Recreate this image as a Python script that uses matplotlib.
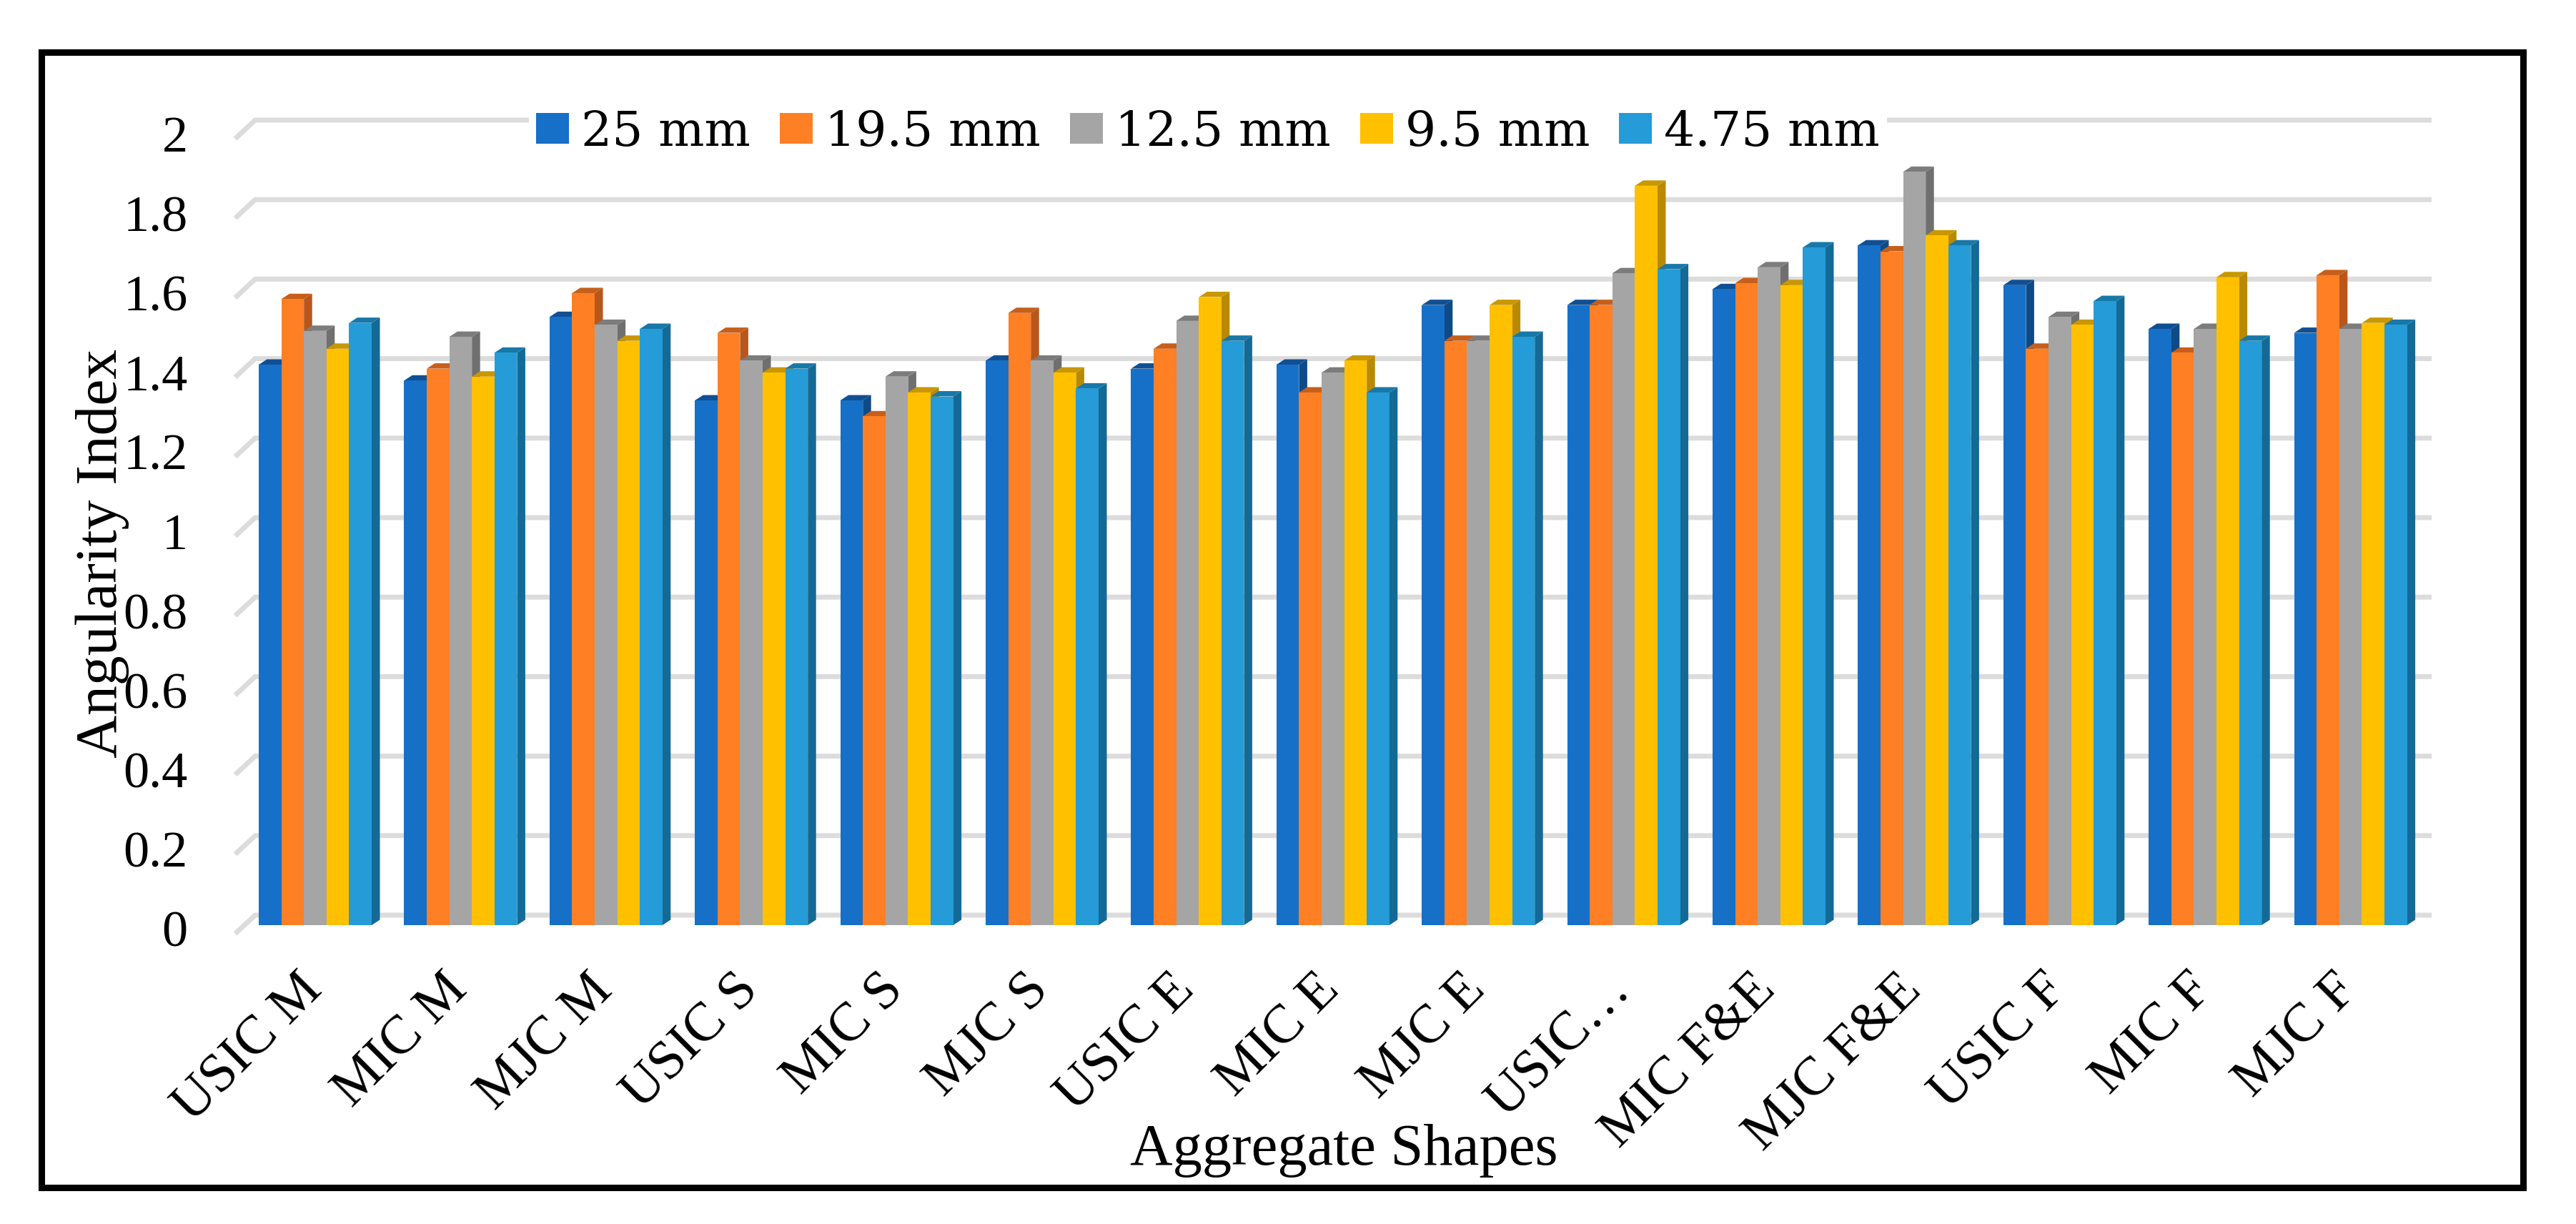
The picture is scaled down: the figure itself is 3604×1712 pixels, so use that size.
import numpy as np
import matplotlib
matplotlib.use("Agg")
import matplotlib.pyplot as plt
from matplotlib.patches import Patch
from matplotlib.transforms import ScaledTranslation

categories = ["USIC M", "MIC M", "MJC M", "USIC S", "MIC S", "MJC S", "USIC E", "MIC E",
              "MJC E", "USIC…", "MIC F&E", "MJC F&E", "USIC F", "MIC F", "MJC F"]
series_names = ["25 mm", "19.5 mm", "12.5 mm", "9.5 mm", "4.75 mm"]
s25 = [1.41, 1.37, 1.53, 1.32, 1.32, 1.42, 1.40, 1.41, 1.56, 1.56, 1.60, 1.71, 1.61, 1.50, 1.49]
s195 = [1.575, 1.40, 1.59, 1.49, 1.28, 1.54, 1.45, 1.34, 1.47, 1.56, 1.615, 1.695, 1.45, 1.44, 1.635]
s125 = [1.495, 1.48, 1.51, 1.42, 1.38, 1.42, 1.52, 1.39, 1.47, 1.64, 1.655, 1.895, 1.53, 1.50, 1.50]
s95 = [1.45, 1.38, 1.47, 1.39, 1.34, 1.39, 1.58, 1.42, 1.56, 1.86, 1.61, 1.735, 1.51, 1.63, 1.515]
s475 = [1.515, 1.44, 1.50, 1.40, 1.33, 1.35, 1.47, 1.34, 1.48, 1.65, 1.705, 1.71, 1.57, 1.47, 1.51]
ytick_values = [0, 0.2, 0.4, 0.6, 0.8, 1, 1.2, 1.4, 1.6, 1.8, 2]
ytick_labels = ["0", "0.2", "0.4", "0.6", "0.8", "1", "1.2", "1.4", "1.6", "1.8", "2"]
front_colors = ["#1670C8", "#FF7F24", "#A5A5A5", "#FFC000", "#259BD8"]
side_colors = ["#0E4A86", "#B9561A", "#6F6F6F", "#B98A00", "#136A96"]
top_colors = ["#114F92", "#C65F1B", "#7C7C7C", "#C99700", "#1878A8"]
all_series = [s25, s195, s125, s95, s475]

W, H = 3604, 1712
fig = plt.figure(figsize=(W / 100, H / 100), dpi=100, facecolor="white")
plt.rcParams["font.family"] = ["Liberation Serif", "DejaVu Serif"]

# outer frame
frame = fig.add_axes([58 / W, 1 - 1661 / H, (3530 - 58) / W, (1661 - 73) / H])
frame.set_xticks([]); frame.set_yticks([])
for s in frame.spines.values():
    s.set_linewidth(6.5); s.set_color("black")
frame.patch.set_alpha(0)

# plot scale: 203.4 px per group, 556 px per unit
PXX, PXY = 203.4, 556.0
X0, Y0 = 362.0, 1294.0
L, R, T = 300.0, 3450.0, 100.0
ax = fig.add_axes([L / W, 1 - Y0 / H, (R - L) / W, (Y0 - T) / H])
ax.set_xlim((L - X0) / PXX, (R - X0) / PXX)
ax.set_ylim(0, (Y0 - T) / PXY)
for s in ax.spines.values():
    s.set_visible(False)
ax.patch.set_alpha(0)

bar_w = 31.6 / PXX
dx, dy = 11.5 / PXX, 7.5 / PXY

# back-wall gridlines with slanted floor end
back, front = 14 / PXY, -12 / PXY
for v in ytick_values:
    ax.plot([-33 / PXX, -5 / PXX, (3402 - X0) / PXX], [v + front, v + back, v + back],
            color="#DCDCDC", lw=5, solid_capstyle="butt", solid_joinstyle="miter", zorder=1, clip_on=False)

z = 3
for i in range(len(categories)):
    for j, vals in enumerate(all_series):
        x = i + j * bar_w
        v = vals[i]
        ax.fill([x + bar_w, x + bar_w + dx, x + bar_w + dx, x + bar_w],
                [0, dy, v + dy, v], color=side_colors[j], lw=0, zorder=z, clip_on=False)
        ax.fill([x, x + dx, x + bar_w + dx, x + bar_w],
                [v, v + dy, v + dy, v], color=top_colors[j], lw=0, zorder=z, clip_on=False)
        ax.bar(x, v, width=bar_w, align="edge", color=front_colors[j], lw=0, zorder=z, clip_on=False)
        z += 1

# y ticks
ax.set_yticks(ytick_values)
ax.set_yticklabels(ytick_labels, fontsize=52, color="black")
ax.tick_params(axis="y", length=0, pad=27)
shift = ScaledTranslation(0, -5 / 100, fig.dpi_scale_trans)
for t in ax.get_yticklabels():
    t.set_transform(t.get_transform() + shift)

# x ticks
ax.set_xticks(np.arange(len(categories)) + 2.5 * bar_w)
ax.set_xticklabels(categories, fontsize=55, rotation=45, ha="right", rotation_mode="anchor", color="black")
ax.tick_params(axis="x", length=0, pad=40)
xshift = ScaledTranslation(-26 / 100, 0, fig.dpi_scale_trans)
for t in ax.get_xticklabels():
    t.set_transform(t.get_transform() + xshift)

# axis titles
fig.text(143 / W, 1 - 774 / H, "Angularity Index", rotation=90, fontsize=60, ha="center", va="center", color="black")
fig.text(1880 / W, 1 - 1609 / H, "Aggregate Shapes", fontsize=59.5, ha="center", va="center", color="black")

# legend
handles = [Patch(facecolor=c, edgecolor="none", label=n) for c, n in zip(front_colors, series_names)]
leg = ax.legend(handles=handles, ncol=5, frameon=True, facecolor="white", edgecolor="none", framealpha=1,
                prop={"family": "DejaVu Serif", "size": 49}, handlelength=0.68, handleheight=0.58,
                handletextpad=0.25, columnspacing=0.6, borderpad=0.15, borderaxespad=0,
                loc="center", bbox_to_anchor=((1690 - L) / (R - L), (Y0 - 185) / (Y0 - T)),
                fancybox=False)
leg.set_zorder(100)

fig.savefig("out.png", dpi=100)
